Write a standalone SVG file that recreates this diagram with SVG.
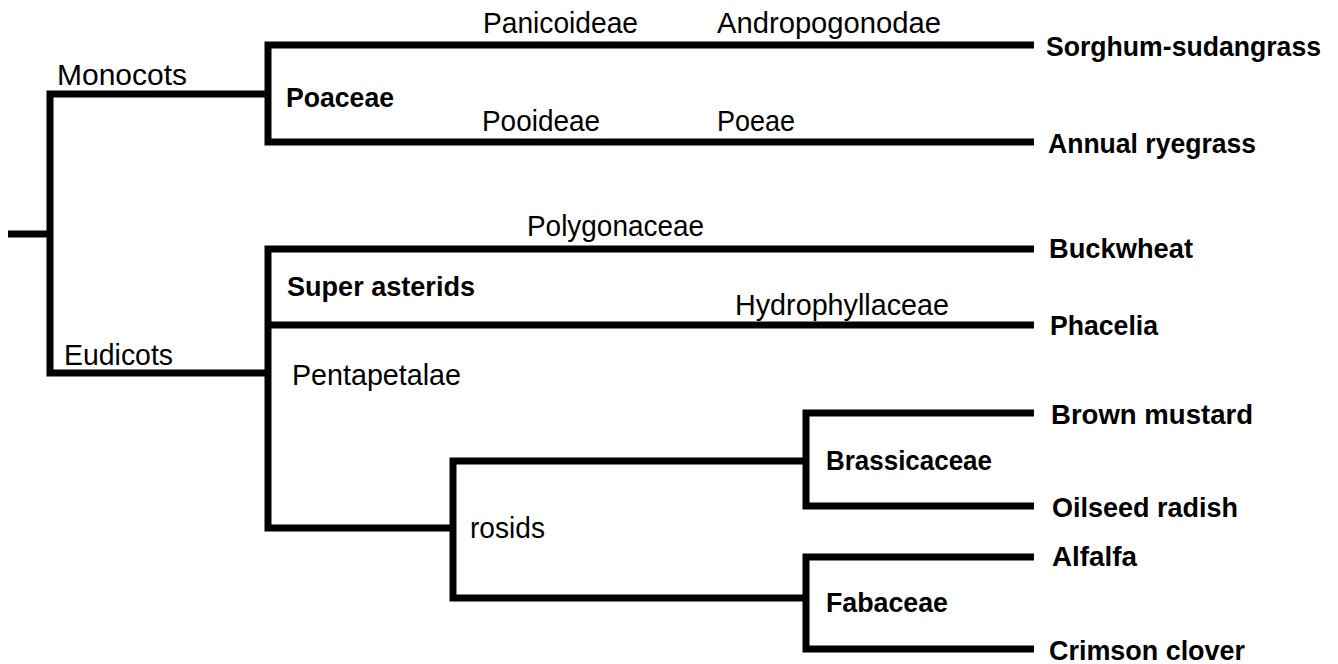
<svg xmlns="http://www.w3.org/2000/svg" width="1338" height="664" viewBox="0 0 1338 664">
<style>
.br{fill:none;stroke:#000;stroke-width:7;stroke-linejoin:miter;stroke-linecap:butt}
text{font-family:"Liberation Sans",Arial,sans-serif;fill:#000}
.r{font-size:29px}
.b{font-size:28px;font-weight:bold}
</style>
<rect width="1338" height="664" fill="#fff"/>
<g id="connectors">
<path class="br" d="M8,234 H50"/>
<path class="br" d="M50,234 V94 H268"/>
<path class="br" d="M50,234 V373 H268"/>
<path class="br" d="M268,94 V45 H1034"/>
<path class="br" d="M268,94 V142 H1034"/>
<path class="br" d="M268,373 V249 H1034"/>
<path class="br" d="M268,325 H1034"/>
<path class="br" d="M268,373 V528 H453"/>
<path class="br" d="M453,528 V461 H806"/>
<path class="br" d="M453,528 V598 H806"/>
<path class="br" d="M806,461 V413 H1034"/>
<path class="br" d="M806,461 V506 H1034"/>
<path class="br" d="M806,598 V557 H1034"/>
<path class="br" d="M806,598 V649 H1034"/>
</g>
<g id="monocots"><text class="r" x="57" y="85" textLength="130" lengthAdjust="spacingAndGlyphs">Monocots</text></g>
<g id="eudicots"><text class="r" x="64" y="365" textLength="109" lengthAdjust="spacingAndGlyphs">Eudicots</text></g>
<g id="poaceae"><text class="b" x="286" y="107" textLength="108" lengthAdjust="spacingAndGlyphs">Poaceae</text></g>
<g id="panicoideae"><text class="r" x="483" y="33" textLength="155" lengthAdjust="spacingAndGlyphs">Panicoideae</text></g>
<g id="andropogonodae"><text class="r" x="717" y="33" textLength="224" lengthAdjust="spacingAndGlyphs">Andropogonodae</text></g>
<g id="pooideae"><text class="r" x="482" y="131" textLength="118" lengthAdjust="spacingAndGlyphs">Pooideae</text></g>
<g id="poeae"><text class="r" x="717" y="131" textLength="78" lengthAdjust="spacingAndGlyphs">Poeae</text></g>
<g id="polygonaceae"><text class="r" x="527" y="236" textLength="177" lengthAdjust="spacingAndGlyphs">Polygonaceae</text></g>
<g id="super-asterids"><text class="b" x="287" y="296" textLength="188" lengthAdjust="spacingAndGlyphs">Super asterids</text></g>
<g id="hydrophyllaceae"><text class="r" x="735" y="315" textLength="214" lengthAdjust="spacingAndGlyphs">Hydrophyllaceae</text></g>
<g id="pentapetalae"><text class="r" x="292" y="385" textLength="169" lengthAdjust="spacingAndGlyphs">Pentapetalae</text></g>
<g id="rosids"><text class="r" x="470" y="538" textLength="75" lengthAdjust="spacingAndGlyphs">rosids</text></g>
<g id="brassicaceae"><text class="b" x="826" y="470" textLength="166" lengthAdjust="spacingAndGlyphs">Brassicaceae</text></g>
<g id="fabaceae"><text class="b" x="826" y="612" textLength="122" lengthAdjust="spacingAndGlyphs">Fabaceae</text></g>
<g id="sorghum-sudangrass"><text class="b" x="1046" y="56" textLength="275" lengthAdjust="spacingAndGlyphs">Sorghum-sudangrass</text></g>
<g id="annual-ryegrass"><text class="b" x="1048" y="153" textLength="208" lengthAdjust="spacingAndGlyphs">Annual ryegrass</text></g>
<g id="buckwheat"><text class="b" x="1049" y="258" textLength="144" lengthAdjust="spacingAndGlyphs">Buckwheat</text></g>
<g id="phacelia"><text class="b" x="1050" y="335" textLength="108" lengthAdjust="spacingAndGlyphs">Phacelia</text></g>
<g id="brown-mustard"><text class="b" x="1051" y="424" textLength="202" lengthAdjust="spacingAndGlyphs">Brown mustard</text></g>
<g id="oilseed-radish"><text class="b" x="1052" y="517" textLength="186" lengthAdjust="spacingAndGlyphs">Oilseed radish</text></g>
<g id="alfalfa"><text class="b" x="1052" y="566" textLength="85" lengthAdjust="spacingAndGlyphs">Alfalfa</text></g>
<g id="crimson-clover"><text class="b" x="1049" y="660" textLength="196" lengthAdjust="spacingAndGlyphs">Crimson clover</text></g>
</svg>
